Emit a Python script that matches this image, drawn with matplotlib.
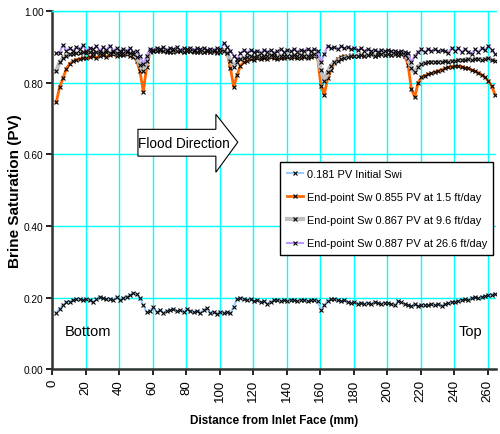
import numpy as np
import matplotlib
matplotlib.use('Agg')
import matplotlib.pyplot as plt
from matplotlib.patches import Polygon
from matplotlib.lines import Line2D

plt.rcParams['font.family'] = ['Liberation Sans', 'DejaVu Sans']

# Distance of each CT slice from the inlet face (mm)
distance = np.arange(2.5, 265.0, 2.0)

sw_initial = [
    0.157, 0.168, 0.180, 0.187, 0.189, 0.193, 0.195, 0.196, 0.194, 0.195,
    0.192, 0.188, 0.195, 0.203, 0.198, 0.196, 0.197, 0.194, 0.201, 0.192,
    0.199, 0.203, 0.207, 0.213, 0.209, 0.198, 0.178, 0.159, 0.162, 0.174,
    0.160, 0.165, 0.158, 0.163, 0.166, 0.167, 0.162, 0.164, 0.161, 0.168,
    0.162, 0.159, 0.163, 0.158, 0.166, 0.170, 0.157, 0.160, 0.155, 0.161,
    0.158, 0.160, 0.156, 0.175, 0.197, 0.199, 0.197, 0.194, 0.196, 0.190,
    0.193, 0.187, 0.190, 0.183, 0.188, 0.192, 0.192, 0.191, 0.192, 0.191,
    0.192, 0.192, 0.191, 0.192, 0.192, 0.191, 0.192, 0.192, 0.191, 0.165,
    0.178, 0.191, 0.195, 0.196, 0.193, 0.190, 0.193, 0.188, 0.185, 0.188,
    0.183, 0.186, 0.182, 0.185, 0.183, 0.187, 0.185, 0.183, 0.186, 0.184,
    0.182, 0.178, 0.190, 0.187, 0.183, 0.179, 0.176, 0.181, 0.177, 0.178,
    0.180, 0.178, 0.181, 0.179, 0.182, 0.177, 0.182, 0.184, 0.187, 0.189,
    0.191, 0.193, 0.196, 0.194, 0.199, 0.201, 0.198, 0.203, 0.205, 0.206,
    0.208, 0.211,
]

sw_rate_1p5 = [
    0.745, 0.787, 0.812, 0.838, 0.853, 0.860, 0.865, 0.866, 0.870, 0.868,
    0.872, 0.874, 0.870, 0.876, 0.878, 0.873, 0.877, 0.879, 0.876, 0.878,
    0.877, 0.879, 0.876, 0.872, 0.862, 0.832, 0.775, 0.845, 0.886, 0.889,
    0.891, 0.888, 0.892, 0.887, 0.890, 0.886, 0.889, 0.891, 0.887, 0.889,
    0.888, 0.886, 0.889, 0.887, 0.885, 0.888, 0.886, 0.887, 0.884, 0.886,
    0.892, 0.884, 0.840, 0.788, 0.822, 0.848, 0.857, 0.862, 0.866, 0.864,
    0.868, 0.866, 0.870, 0.867, 0.871, 0.868, 0.866, 0.870, 0.868, 0.871,
    0.869, 0.872, 0.868, 0.870, 0.873, 0.869, 0.871, 0.874, 0.872, 0.790,
    0.767, 0.812, 0.835, 0.855, 0.866, 0.872, 0.875, 0.873, 0.877, 0.874,
    0.876, 0.878, 0.875, 0.877, 0.879, 0.876, 0.878, 0.880, 0.877, 0.879,
    0.878, 0.880, 0.877, 0.879, 0.876, 0.850, 0.782, 0.760, 0.800, 0.815,
    0.820, 0.824, 0.826, 0.830, 0.833, 0.836, 0.840, 0.843, 0.845, 0.847,
    0.846, 0.845, 0.842, 0.840, 0.836, 0.832, 0.828, 0.822, 0.815, 0.805,
    0.790, 0.766,
]

sw_rate_9p6 = [
    0.833, 0.857, 0.868, 0.875, 0.879, 0.881, 0.883, 0.882, 0.885, 0.884,
    0.886, 0.883, 0.885, 0.882, 0.884, 0.886, 0.883, 0.885, 0.882, 0.884,
    0.883, 0.885, 0.882, 0.880, 0.872, 0.850, 0.832, 0.860, 0.888, 0.890,
    0.889, 0.891, 0.888, 0.890, 0.887, 0.891, 0.888, 0.890, 0.887, 0.889,
    0.888, 0.890, 0.886, 0.889, 0.887, 0.889, 0.886, 0.888, 0.885, 0.887,
    0.889, 0.882, 0.862, 0.845, 0.858, 0.866, 0.870, 0.872, 0.874, 0.872,
    0.875, 0.873, 0.876, 0.874, 0.877, 0.875, 0.873, 0.876, 0.874, 0.876,
    0.874, 0.877, 0.875, 0.878, 0.876, 0.874, 0.877, 0.879, 0.876, 0.835,
    0.805, 0.830, 0.848, 0.857, 0.862, 0.866, 0.870, 0.873, 0.875, 0.874,
    0.876, 0.878, 0.875, 0.877, 0.879, 0.876, 0.878, 0.880, 0.877, 0.879,
    0.878, 0.880, 0.878, 0.880, 0.878, 0.868, 0.840, 0.829, 0.845, 0.852,
    0.856, 0.857, 0.858, 0.857, 0.859, 0.858, 0.860, 0.859, 0.861, 0.862,
    0.864, 0.863, 0.865, 0.866, 0.864, 0.866, 0.867, 0.865, 0.866, 0.868,
    0.864, 0.862,
]

sw_rate_26p6 = [
    0.883, 0.884, 0.906, 0.890, 0.896, 0.888, 0.900, 0.893, 0.905, 0.890,
    0.897, 0.893, 0.902, 0.889, 0.899, 0.892, 0.904, 0.890, 0.896, 0.888,
    0.895, 0.889, 0.897, 0.886, 0.888, 0.875, 0.852, 0.875, 0.895, 0.892,
    0.898, 0.893, 0.900, 0.892, 0.897, 0.894, 0.899, 0.891, 0.896, 0.893,
    0.898, 0.892, 0.896, 0.893, 0.897, 0.891, 0.895, 0.892, 0.896, 0.893,
    0.911, 0.900, 0.890, 0.875, 0.866, 0.882, 0.891, 0.884, 0.892, 0.885,
    0.890, 0.884, 0.892, 0.886, 0.891, 0.884, 0.889, 0.893, 0.886, 0.891,
    0.888, 0.894, 0.887, 0.892, 0.889, 0.895, 0.888, 0.893, 0.890, 0.858,
    0.880, 0.903, 0.896, 0.899, 0.893, 0.902, 0.896, 0.900, 0.894, 0.898,
    0.891, 0.896, 0.889, 0.893, 0.888, 0.892, 0.887, 0.891, 0.888, 0.892,
    0.888, 0.890, 0.886, 0.889, 0.885, 0.884, 0.857, 0.875, 0.887, 0.893,
    0.885, 0.895, 0.889, 0.893, 0.888, 0.891, 0.889, 0.884, 0.897, 0.890,
    0.896, 0.885, 0.894, 0.887, 0.881, 0.893, 0.886, 0.897, 0.891, 0.903,
    0.892, 0.880,
]

labels = [
    '0.181 PV Initial Swi',
    'End-point Sw 0.855 PV at 1.5 ft/day',
    'End-point Sw 0.867 PV at 9.6 ft/day',
    'End-point Sw 0.887 PV at 26.6 ft/day',
]
series = [sw_initial, sw_rate_1p5, sw_rate_9p6, sw_rate_26p6]
colors = ['#99ccff', '#ff6600', '#c0c0c0', '#bb99ff']
widths = [1.5, 2.0, 3.0, 1.5]

fig = plt.figure(figsize=(5.0, 4.35), dpi=100)
ax = fig.add_axes([0.104, 0.149, 0.888, 0.823])

for y, c, lw in zip(series, colors, widths):
    ax.plot(distance, y, color=c, lw=lw, marker='x', ms=3.5, mec='black',
            mew=0.8, zorder=3)

ax.set_xlim(0, 265)
ax.set_ylim(0, 1.0)
ax.set_xticks(np.arange(0, 261, 20))
ax.set_yticks(np.arange(0, 1.01, 0.2))
ax.set_yticklabels([f'{v:.2f}' for v in np.arange(0, 1.01, 0.2)], fontsize=7.3)
ax.tick_params(axis='x', labelrotation=90, labelsize=9.5, length=4,
               width=1.2, pad=3)
ax.tick_params(axis='y', length=4, width=1.2, pad=2)
ax.grid(True, color='#00ffff', lw=1.0)
ax.set_axisbelow(True)
for side in ['left', 'bottom']:
    ax.spines[side].set_linewidth(1.8)
    ax.spines[side].set_color('#333333')
ax.spines['top'].set_color('#00ffff')
ax.spines['top'].set_linewidth(1.0)
ax.spines['right'].set_visible(False)

ax.set_ylabel('Brine Saturation (PV)', fontsize=11, fontweight='bold')
ax.yaxis.set_label_coords(-0.068, 0.5)
ax.set_xlabel('Distance from Inlet Face (mm)', fontsize=8.5,
              fontweight='bold', labelpad=9)

# Flood direction arrow
arrow = Polygon([(51.3, 0.595), (97.8, 0.595), (97.8, 0.550), (110.9, 0.634),
                 (97.8, 0.712), (97.8, 0.670), (51.3, 0.670)],
                closed=True, facecolor='white', edgecolor='black', lw=0.8,
                zorder=4)
ax.add_patch(arrow)
ax.text(79.0, 0.632, 'Flood Direction', fontsize=9.8,
        ha='center', va='center', zorder=5)

ax.text(7.8, 0.106, 'Bottom', fontsize=10.5, va='center')
ax.text(242.7, 0.106, 'Top', fontsize=10.5, va='center')

handles = [Line2D([], [], color=c, lw=lw, marker='x', ms=3.5, mec='black',
                  mew=0.8) for c, lw in zip(colors, widths)]
leg = ax.legend(handles, labels, loc='upper left',
                bbox_to_anchor=(0.514, 0.578), prop={'size': 7.9},
                frameon=True, fancybox=False, edgecolor='black',
                framealpha=1, handlelength=1.5, handletextpad=0.3,
                borderpad=0.6, labelspacing=1.2, borderaxespad=0)
leg.get_frame().set_linewidth(1.0)
leg.set_zorder(6)

fig.savefig('out.png', dpi=100, facecolor='white')
